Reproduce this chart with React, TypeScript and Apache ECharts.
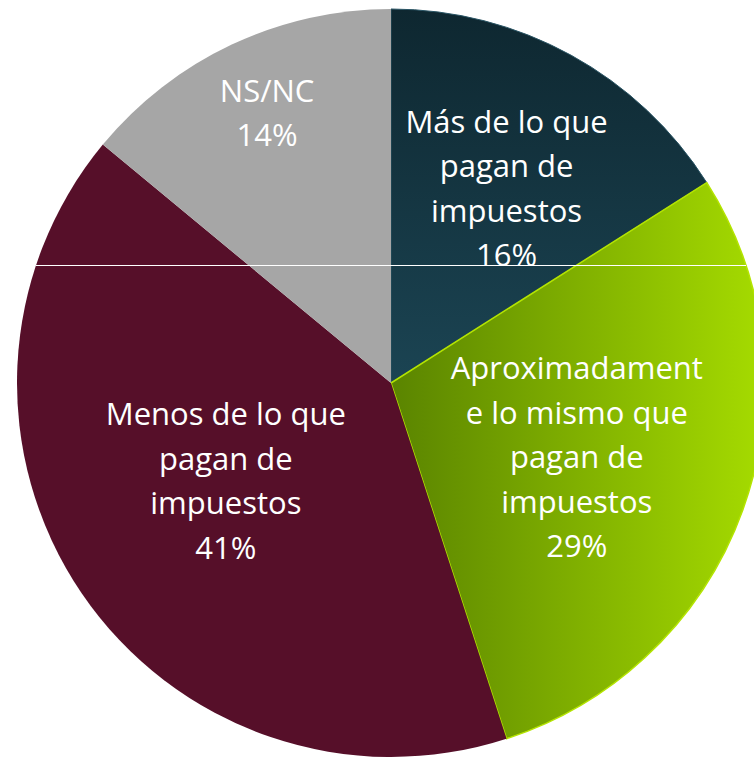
import React, { useEffect, useRef } from "react";
import * as echarts from "echarts";

const categories = [
  "Más de lo que pagan de impuestos",
  "Aproximadamente lo mismo que pagan de impuestos",
  "Menos de lo que pagan de impuestos",
  "NS/NC",
];
const values = [16, 29, 41, 14];
const labelLines = [
  ["Más de lo que", "pagan de", "impuestos"],
  ["Aproximadament", "e lo mismo que", "pagan de", "impuestos"],
  ["Menos de lo que", "pagan de", "impuestos"],
  ["NS/NC"],
];
// label shift from the default inside position
const labelShift = [
  [24, -29],
  [7, 9],
  [-8, -10],
  [-43, -99],
];

const CX = 391;
const CY = 383;
const R = 374;
const LINE_Y = 265.5;

export default function App() {
  const ref = useRef<HTMLDivElement>(null);
  useEffect(() => {
    if (!ref.current) return;
    const chart = echarts.init(ref.current, undefined, { renderer: "svg" });
    const colors = [
      new echarts.graphic.LinearGradient(0, 0, 0, 1, [
        { offset: 0, color: "#0e2730" },
        { offset: 1, color: "#1b4453" },
      ]),
      new echarts.graphic.LinearGradient(0, 0, 1, 0, [
        { offset: 0, color: "#5a8400" },
        { offset: 1, color: "#a6dc00" },
      ]),
      "#560f29",
      "#a6a6a6",
    ];
    const borders = ["#2a5565", "#b4e400", "#560f29", "#a6a6a6"];
    const half = Math.sqrt(R * R - (CY - LINE_Y) * (CY - LINE_Y));
    chart.setOption({
      animation: false,
      backgroundColor: "#ffffff",
      series: [
        {
          type: "pie",
          center: [CX, CY],
          radius: [0, R],
          startAngle: 90,
          clockwise: true,
          label: {
            show: true,
            position: "inside",
            color: "#ffffff",
            fontFamily: "Open Sans",
            fontSize: 31,
            lineHeight: 44.5,
            align: "center",
            formatter: (p: any) =>
              [...labelLines[p.dataIndex], values[p.dataIndex] + "%"].join("\n"),
          },
          labelLine: { show: false },
          labelLayout: (p: any) => ({
            dx: labelShift[p.dataIndex][0],
            dy: labelShift[p.dataIndex][1],
          }),
          emphasis: { disabled: true },
          data: categories.map((c, i) => ({
            name: c,
            value: values[i],
            itemStyle: {
              color: colors[i],
              borderColor: borders[i],
              borderWidth: i === 1 ? 1.5 : i === 0 ? 1 : 0,
            },
          })),
        },
      ],
      graphic: [
        {
          type: "line",
          z: 100,
          shape: { x1: CX - half, y1: LINE_Y, x2: CX + half, y2: LINE_Y },
          style: { stroke: "#ffffff", lineWidth: 1 },
        },
      ],
    });
    return () => chart.dispose();
  }, []);
  return (
    <div
      ref={ref}
      style={{ position: "fixed", left: 0, top: 0, width: 754, height: 759 }}
    />
  );
}
